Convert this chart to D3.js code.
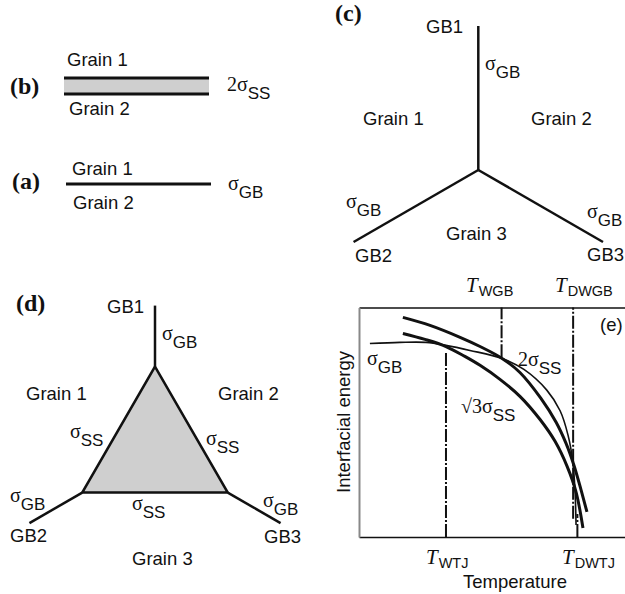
<!DOCTYPE html>
<html>
<head>
<meta charset="utf-8">
<script src="https://cdn.jsdelivr.net/npm/d3@7"></script>
<style>
  body { margin: 0; background: #fff; }
  text { font-family: "Liberation Sans", Arial, sans-serif; font-size: 18.5px; fill: #111; }
  .panel { font-family: "Liberation Serif", serif; font-weight: bold; font-size: 24px; }
  .sym { font-family: "Liberation Serif", serif; font-size: 20px; }
  .sub { font-size: 17px; }
  .tsym { font-family: "Liberation Serif", serif; font-style: italic; font-size: 21px; }
  .tsub { font-size: 14.5px; }
</style>
</head>
<body>
<svg width="625" height="594"></svg>
<script>
// ---- data (temperature / energy in arbitrary units, 0-100) ----
const sigmaGB_T = [4.1, 15.4, 25.2, 32.7, 41.7, 53.8, 62.0, 70.6, 75.6, 78.6, 80.3, 81.2, 81.6]
const sigmaGB_E = [84.3, 84.8, 84.8, 83.5, 81.3, 77.8, 73.0, 64.0, 55.0, 44.3, 33.5, 20.4, 5.2]

const twoSigmaSS_T = [16.5, 26.7, 38.0, 45.5, 53.8, 60.5, 68.4, 74.1, 77.8, 80.8, 83.5, 85.7]
const twoSigmaSS_E = [95.7, 92.2, 87.0, 83.0, 77.8, 71.7, 60.4, 50.0, 40.9, 31.3, 20.4, 10.9]

const sqrt3SigmaSS_T = [16.5, 24.8, 32.7, 39.8, 45.5, 53.0, 60.5, 68.0, 73.7, 78.2, 81.6, 84.2]
const sqrt3SigmaSS_E = [88.7, 86.1, 83.0, 78.7, 74.8, 68.7, 61.3, 51.3, 41.7, 30.9, 19.6, 3.9]

// transition temperatures and extent of their dash-dot markers
const markerNames = ["WTJ", "WGB", "DWGB", "DWTJ"]
const markerT = [32.7, 53.6, 80.5, 82.1]
const markerLow = [0, 78.3, 8, 0]
const markerHigh = [80.4, 100, 100, 10]

// junction geometry (degrees, 0 = up)
const armAngles = [0, 120, 240]
const grainNames = ["Grain 1", "Grain 2", "Grain 3"]
const gbNames = ["GB1", "GB2", "GB3"]

const svg = d3.select("svg")
const rad = a => a * Math.PI / 180

// subscripted label helper
function sigmaLabel(x, y, pre, sub) {
  const t = svg.append("text").attr("x", x).attr("y", y)
  t.append("tspan").attr("class", "sym").text(pre + "σ")
  t.append("tspan").attr("class", "sub").attr("dy", 8).text(sub)
  return t
}
function tLabel(x, y, sub) {
  const t = svg.append("text").attr("x", x).attr("y", y)
  t.append("tspan").attr("class", "tsym").text("T")
  t.append("tspan").attr("class", "tsub").attr("dy", 4).attr("dx", 1).text(sub)
  return t
}
function plain(x, y, s, cls) {
  return svg.append("text").attr("x", x).attr("y", y).attr("class", cls || null).text(s)
}

// ---- (b) ----
plain(10, 94, "(b)", "panel")
svg.append("rect")
  .attr("x", 64).attr("y", 78).attr("width", 145).attr("height", 16)
  .attr("fill", "#cfcfcf")
svg.append("line").attr("x1", 64).attr("x2", 209).attr("y1", 78).attr("y2", 78)
  .attr("stroke", "#111").attr("stroke-width", 3)
svg.append("line").attr("x1", 64).attr("x2", 209).attr("y1", 94).attr("y2", 94)
  .attr("stroke", "#111").attr("stroke-width", 3)
plain(67, 66, "Grain 1")
plain(69, 115, "Grain 2")
sigmaLabel(227, 91, "2", "SS")

// ---- (a) ----
plain(12, 189, "(a)", "panel")
svg.append("line").attr("x1", 66).attr("x2", 211).attr("y1", 184).attr("y2", 184)
  .attr("stroke", "#111").attr("stroke-width", 3)
plain(72, 175, "Grain 1")
plain(73, 209, "Grain 2")
sigmaLabel(228, 190, "", "GB")

// ---- (c) triple junction ----
const cC = [478.3, 170]
plain(335, 21, "(c)", "panel")
armAngles.forEach(a => {
  const p = d3.pointRadial(rad(a), 144)
  svg.append("line")
    .attr("x1", cC[0]).attr("y1", cC[1])
    .attr("x2", cC[0] + p[0]).attr("y2", cC[1] + p[1])
    .attr("stroke", "#111").attr("stroke-width", 2.5)
})
plain(426, 33, gbNames[0])
plain(355, 262, gbNames[1])
plain(587, 261, gbNames[2])
plain(363, 125, grainNames[0])
plain(531, 125, grainNames[1])
plain(446, 240, grainNames[2])
sigmaLabel(485, 70, "", "GB")
sigmaLabel(346, 208, "", "GB")
sigmaLabel(587, 218, "", "GB")

// ---- (d) wetted triple junction ----
const cD = [155, 450.6]
const rTri = 84, rArm = 145
plain(16, 311, "(d)", "panel")
const tri = armAngles.map(a => {
  const p = d3.pointRadial(rad(a), rTri)
  return [cD[0] + p[0], cD[1] + p[1]]
})
svg.append("path")
  .attr("d", d3.line()(tri) + "Z")
  .attr("fill", "#cfcfcf").attr("stroke", "#111").attr("stroke-width", 2.5)
  .attr("stroke-linejoin", "miter")
armAngles.forEach(a => {
  const p0 = d3.pointRadial(rad(a), rTri)
  const p1 = d3.pointRadial(rad(a), rArm)
  svg.append("line")
    .attr("x1", cD[0] + p0[0]).attr("y1", cD[1] + p0[1])
    .attr("x2", cD[0] + p1[0]).attr("y2", cD[1] + p1[1])
    .attr("stroke", "#111").attr("stroke-width", 2.5)
})
plain(107, 313, gbNames[0])
plain(10, 542, gbNames[1])
plain(264, 543, gbNames[2])
plain(26, 400, grainNames[0])
plain(218, 400, grainNames[1])
plain(132, 565, grainNames[2])
sigmaLabel(162, 340, "", "GB")
sigmaLabel(10, 502, "", "GB")
sigmaLabel(263, 507, "", "GB")
sigmaLabel(70, 438, "", "SS")
sigmaLabel(206, 445, "", "SS")
sigmaLabel(132, 510, "", "SS")

// ---- (e) interfacial energy vs temperature ----
const x = d3.scaleLinear().domain([0, 100]).range([359, 625])
const y = d3.scaleLinear().domain([0, 100]).range([537, 307.5])

svg.append("g").attr("transform", "translate(0,537)")
  .call(d3.axisBottom(x).tickValues([]).tickSizeOuter(0))
  .select(".domain").attr("stroke", "#111").attr("stroke-width", 1.6)
svg.append("g").attr("transform", "translate(0,307.5)")
  .call(d3.axisTop(x).tickValues([]).tickSizeOuter(0))
  .select(".domain").attr("stroke", "#111").attr("stroke-width", 1.4)
svg.append("g").attr("transform", "translate(359,0)")
  .call(d3.axisLeft(y).tickValues([]).tickSizeOuter(0))
  .select(".domain").attr("stroke", "#888").attr("stroke-width", 2)

markerT.forEach((t, i) => {
  svg.append("line")
    .attr("x1", x(t)).attr("x2", x(t))
    .attr("y1", y(markerLow[i])).attr("y2", y(markerHigh[i]))
    .attr("stroke", "#111").attr("stroke-width", 2)
    .attr("stroke-dasharray", "13,2,2,2")
})

const line = d3.line()
  .x(d => x(d[0])).y(d => y(d[1]))
  .curve(d3.curveCatmullRom.alpha(0.5))

const series = [
  { T: sigmaGB_T, E: sigmaGB_E, w: 1.6 },
  { T: twoSigmaSS_T, E: twoSigmaSS_E, w: 3 },
  { T: sqrt3SigmaSS_T, E: sqrt3SigmaSS_E, w: 3 }
]
series.forEach(s => {
  svg.append("path")
    .datum(d3.zip(s.T, s.E))
    .attr("d", line)
    .attr("fill", "none").attr("stroke", "#111").attr("stroke-width", s.w)
})

sigmaLabel(367, 365, "", "GB")
sigmaLabel(518, 366, "2", "SS")
sigmaLabel(461, 413, "√3", "SS")
plain(600, 331, "(e)")

tLabel(466, 292, markerNames[1])
tLabel(555, 292, markerNames[2])
tLabel(426, 564, markerNames[0])
tLabel(562, 564, markerNames[3])

svg.append("text").attr("x", 515).attr("y", 588)
  .attr("text-anchor", "middle").text("Temperature")
svg.append("text")
  .attr("transform", "translate(350,422) rotate(-90)")
  .attr("text-anchor", "middle").text("Interfacial energy")
</script>
</body>
</html>
